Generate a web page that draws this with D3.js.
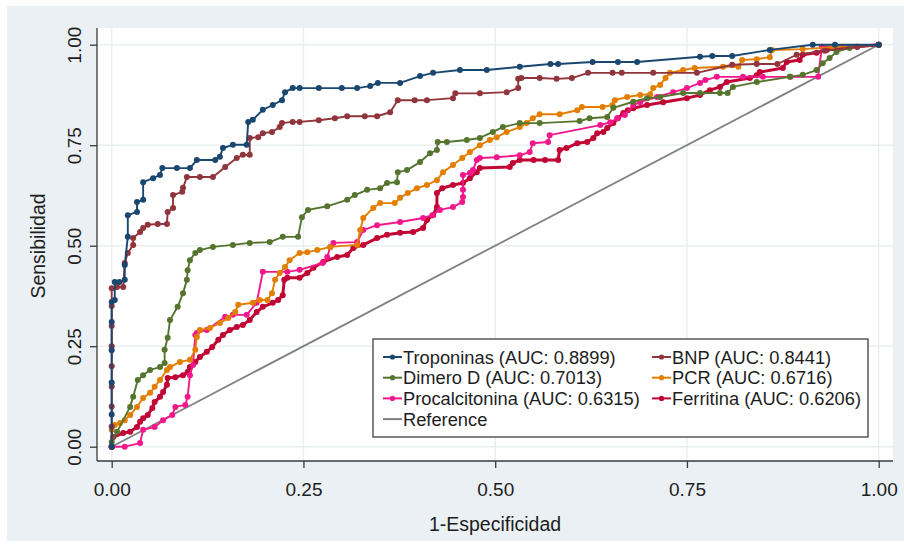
<!DOCTYPE html>
<html>
<head>
<meta charset="utf-8">
<script src="https://cdn.jsdelivr.net/npm/d3@7"></script>
<style>
  body { margin: 0; background: #ffffff; }
  svg { display: block; font-family: "Liberation Sans", Arial, sans-serif; }
  .tick_text { font-size: 19px; fill: #1e1e1e; }
  .title_text { font-size: 19.5px; fill: #1e1e1e; }
  .legend_text { font-size: 18.3px; fill: #1e1e1e; }
</style>
</head>
<body>
<div id="screen"></div>
<script>
// ROC points: [1-especificidad, sensibilidad]
const troponinas = [[0,0],[0,.08],[0,.16],[0,.24],[0,.31],[0,.36],[.004,.365],[.004,.41],[.01,.41],[.017,.415],[.017,.452],
  [.021,.522],[.021,.576],[.033,.584],[.033,.609],[.041,.614],[.041,.658],[.054,.668],[.063,.676],[.066,.693],[.085,.693],
  [.102,.693],[.111,.713],[.135,.713],[.141,.721],[.145,.743],[.158,.751],[.176,.751],[.178,.808],[.184,.813],[.197,.838],
  [.21,.85],[.222,.862],[.226,.882],[.236,.892],[.245,.892],[.27,.892],[.3,.892],[.32,.892],[.337,.897],[.347,.905],[.376,.905],
  [.402,.922],[.419,.93],[.454,.937],[.489,.937],[.532,.945],[.572,.952],[.582,.952],[.627,.957],[.66,.957],[.685,.957],
  [.767,.97],[.783,.972],[.809,.972],[.858,.987],[.914,1],[.943,1],[1,1]];

const bnp = [[0,0],[0,.05],[0,.1],[0,.15],[0,.2],[0,.25],[0,.3],[0,.35],[0,.394],[.007,.397],[.015,.397],[.017,.457],
  [.021,.482],[.028,.502],[.028,.519],[.037,.534],[.041,.544],[.047,.552],[.06,.554],[.072,.554],[.073,.584],[.08,.594],
  [.08,.626],[.092,.634],[.093,.644],[.098,.671],[.115,.671],[.132,.671],[.148,.696],[.163,.718],[.171,.726],[.18,.726],
  [.18,.768],[.191,.77],[.197,.78],[.209,.783],[.219,.795],[.222,.805],[.236,.808],[.245,.808],[.27,.812],[.291,.817],
  [.307,.822],[.33,.822],[.346,.822],[.363,.832],[.373,.862],[.395,.862],[.411,.862],[.445,.867],[.448,.879],[.48,.879],
  [.515,.882],[.53,.892],[.53,.915],[.534,.917],[.558,.917],[.58,.915],[.6,.917],[.621,.93],[.653,.93],[.665,.93],[.706,.93],
  [.763,.93],[.809,.95],[.841,.952],[.868,.952],[.893,.975],[.93,.985],[.972,.995],[1,1]];

const dimeroD = [[0,0],[0,.012],[.007,.037],[.024,.099],[.028,.124],[.034,.166],[.041,.178],[.05,.191],[.063,.198],
  [.069,.208],[.069,.241],[.073,.271],[.076,.315],[.086,.348],[.093,.382],[.098,.415],[.099,.439],[.102,.464],[.109,.482],
  [.115,.489],[.132,.497],[.158,.502],[.18,.507],[.206,.509],[.223,.522],[.243,.522],[.248,.571],[.256,.589],[.281,.598],
  [.307,.614],[.317,.626],[.333,.639],[.35,.643],[.359,.656],[.372,.658],[.373,.683],[.385,.688],[.402,.708],[.415,.73],
  [.424,.738],[.425,.758],[.437,.758],[.463,.763],[.48,.768],[.497,.783],[.51,.795],[.532,.805],[.558,.805],[.61,.81],
  [.623,.817],[.646,.82],[.654,.843],[.68,.858],[.698,.867],[.715,.87],[.745,.88],[.767,.88],[.793,.88],[.803,.88],
  [.81,.895],[.841,.907],[.884,.92],[.901,.925],[.919,.937],[.927,.954],[.936,.967],[.945,.982],[.962,.992],[1,1]];

const pcr = [[0,0],[0,.042],[.004,.054],[.011,.059],[.017,.066],[.024,.079],[.033,.099],[.041,.121],[.05,.134],[.056,.149],
  [.063,.166],[.072,.191],[.076,.198],[.089,.211],[.102,.216],[.109,.241],[.111,.273],[.115,.29],[.128,.295],[.141,.308],
  [.152,.32],[.161,.335],[.165,.353],[.184,.358],[.193,.365],[.203,.365],[.209,.382],[.213,.415],[.219,.432],[.226,.447],
  [.232,.464],[.245,.482],[.255,.484],[.268,.489],[.285,.497],[.32,.502],[.324,.539],[.328,.569],[.341,.594],[.35,.606],
  [.369,.606],[.376,.619],[.386,.631],[.398,.643],[.411,.651],[.424,.663],[.432,.683],[.445,.701],[.457,.718],[.467,.733],
  [.48,.75],[.493,.763],[.502,.77],[.515,.783],[.532,.795],[.541,.805],[.549,.817],[.558,.827],[.584,.827],[.607,.837],
  [.613,.845],[.64,.845],[.653,.85],[.656,.862],[.672,.87],[.689,.875],[.702,.877],[.706,.892],[.715,.9],[.722,.917],
  [.728,.93],[.745,.937],[.76,.942],[.797,.945],[.817,.945],[.822,.962],[.841,.964],[.858,.969],[.861,.987],[.901,.989],
  [.94,.994],[1,1]];

const procalcitonina = [[0,0],[.017,0],[.037,.009],[.041,.042],[.056,.049],[.067,.066],[.079,.079],[.083,.099],[.096,.104],
  [.099,.124],[.102,.178],[.106,.203],[.109,.278],[.111,.283],[.124,.29],[.148,.323],[.158,.328],[.176,.328],[.189,.358],
  [.197,.435],[.229,.435],[.245,.44],[.275,.457],[.281,.472],[.285,.497],[.289,.507],[.32,.509],[.328,.539],[.346,.551],
  [.376,.559],[.406,.569],[.418,.576],[.428,.589],[.445,.596],[.457,.609],[.458,.621],[.458,.639],[.458,.676],[.467,.681],
  [.471,.688],[.476,.713],[.48,.718],[.502,.72],[.532,.725],[.545,.733],[.549,.755],[.569,.758],[.571,.775],[.637,.8],
  [.65,.807],[.659,.817],[.669,.825],[.68,.85],[.689,.857],[.711,.87],[.732,.882],[.75,.892],[.767,.905],[.774,.912],
  [.789,.92],[.823,.92],[.849,.92],[.885,.92],[.921,.92],[.926,.995],[1,1]];

const ferritina = [[0,0],[.002,.024],[.015,.034],[.024,.037],[.033,.049],[.037,.062],[.041,.071],[.047,.079],[.053,.096],
  [.056,.111],[.063,.124],[.067,.136],[.072,.154],[.073,.171],[.083,.173],[.093,.178],[.099,.186],[.102,.198],[.109,.211],
  [.115,.223],[.124,.236],[.131,.248],[.139,.266],[.145,.278],[.154,.29],[.163,.298],[.171,.303],[.18,.315],[.189,.335],
  [.197,.348],[.21,.358],[.217,.365],[.223,.377],[.225,.415],[.229,.42],[.245,.42],[.255,.432],[.263,.445],[.276,.46],
  [.294,.472],[.307,.477],[.315,.494],[.328,.502],[.346,.519],[.359,.527],[.376,.532],[.393,.534],[.406,.544],[.411,.564],
  [.419,.576],[.424,.596],[.424,.631],[.431,.643],[.445,.651],[.458,.656],[.467,.668],[.476,.683],[.48,.693],[.519,.696],
  [.523,.706],[.532,.713],[.55,.713],[.565,.713],[.582,.713],[.584,.738],[.593,.743],[.607,.755],[.62,.758],[.628,.768],
  [.633,.78],[.641,.783],[.646,.793],[.654,.805],[.66,.817],[.667,.83],[.673,.837],[.68,.842],[.698,.85],[.719,.857],
  [.75,.867],[.767,.875],[.78,.887],[.793,.895],[.802,.907],[.832,.917],[.841,.924],[.845,.932],[.875,.942],[.88,.957],
  [.897,.962],[.901,.975],[.919,.98],[.932,.987],[.972,.995],[1,1]];

const seriesNames = ["Troponinas", "BNP", "Dimero D", "PCR", "Procalcitonina", "Ferritina"];
const seriesAUC = ["0.8899", "0.8441", "0.7013", "0.6716", "0.6315", "0.6206"];
const seriesColors = ["#1a476f", "#90353b", "#55752f", "#e37e00", "#f2188c", "#c10534"];
const seriesPoints = [troponinas, bnp, dimeroD, pcr, procalcitonina, ferritina];
const referenceLine = [[0,0],[1,1]];
const ticks = [0, .25, .5, .75, 1];

const width = 904, height = 547;

const svg = d3.select("#screen").append("svg")
  .attr("width", width).attr("height", height)

svg.append("rect")
  .attr("x", 7).attr("y", 6).attr("width", 897).attr("height", 535)
  .attr("fill", "#eaf0f3")

svg.append("rect")
  .attr("x", 97).attr("y", 28).attr("width", 796).attr("height", 433)
  .attr("fill", "#ffffff")

const x = d3.scaleLinear().domain([0, 1]).range([111.7, 878.7]);
const y = d3.scaleLinear().domain([0, 1]).range([446.7, 44.7]);

// grid
svg.append("g").selectAll("line")
  .data(ticks).enter().append("line")
  .attr("x1", 97).attr("x2", 893)
  .attr("y1", d => y(d)).attr("y2", d => y(d))
  .attr("stroke", "#e9eef1").attr("stroke-width", 1.5)
svg.append("g").selectAll("line")
  .data(ticks).enter().append("line")
  .attr("y1", 28).attr("y2", 461)
  .attr("x1", d => x(d)).attr("x2", d => x(d))
  .attr("stroke", "#e9eef1").attr("stroke-width", 1.5)

// axes
const xAxis = svg.append("g")
  .attr("transform", "translate(0,461)")
  .call(d3.axisBottom(x).tickValues(ticks).tickFormat(d3.format(".2f")).tickSize(7).tickSizeOuter(0))
xAxis.select(".domain").attr("d", "M97,0H893")
xAxis.selectAll("line").attr("stroke", "#3a3a3a").attr("stroke-width", 1.3)
xAxis.select(".domain").attr("stroke", "#3a3a3a").attr("stroke-width", 1.3)
xAxis.selectAll("text").attr("class", "tick_text").attr("font-size", null).attr("font-family", null).attr("y", 22).attr("dy", "0.71em")

const yAxis = svg.append("g")
  .attr("transform", "translate(97,0)")
  .call(d3.axisLeft(y).tickValues(ticks).tickFormat(d3.format(".2f")).tickSize(7).tickSizeOuter(0))
yAxis.select(".domain").attr("d", "M0,28V461")
yAxis.selectAll("line").attr("stroke", "#3a3a3a").attr("stroke-width", 1.3)
yAxis.select(".domain").attr("stroke", "#3a3a3a").attr("stroke-width", 1.3)
yAxis.selectAll("text")
  .attr("class", "tick_text").attr("font-size", null).attr("font-family", null)
  .attr("x", null).attr("dy", null)
  .attr("text-anchor", "middle")
  .attr("transform", "translate(-16,0) rotate(-90)")

svg.append("text")
  .text("1-Especificidad")
  .attr("class", "title_text")
  .attr("x", 495).attr("y", 531)
  .attr("text-anchor", "middle")

svg.append("text")
  .text("Sensibilidad")
  .attr("class", "title_text")
  .attr("transform", "translate(45,246) rotate(-90)")
  .attr("text-anchor", "middle")

// reference line
const line = d3.line().x(d => x(d[0])).y(d => y(d[1]));
svg.append("path")
  .datum(referenceLine)
  .attr("d", line)
  .attr("fill", "none")
  .attr("stroke", "#808080")
  .attr("stroke-width", 1.8)

// curves, drawn last series first so Troponinas sits on top
const order = [5, 4, 3, 2, 1, 0];
order.forEach(i => {
  const g = svg.append("g");
  g.append("path")
    .datum(seriesPoints[i])
    .attr("d", line)
    .attr("fill", "none")
    .attr("stroke", seriesColors[i])
    .attr("stroke-width", i == 5 ? 3 : 1.9)
    .attr("stroke-linejoin", "round")
  g.selectAll("circle")
    .data(seriesPoints[i])
    .enter().append("circle")
    .attr("cx", d => x(d[0]))
    .attr("cy", d => y(d[1]))
    .attr("r", 3)
    .attr("fill", seriesColors[i])
});

// legend
const legend = svg.append("g");
legend.append("rect")
  .attr("x", 373).attr("y", 339).attr("width", 495).attr("height", 98)
  .attr("fill", "#ffffff").attr("stroke", "#404040").attr("stroke-width", 1.3)

const legendItems = seriesNames.map((n, i) => ({
  label: n + " (AUC: " + seriesAUC[i] + ")", color: seriesColors[i], dot: true,
  col: i % 2, row: Math.floor(i / 2)
}));
legendItems.push({ label: "Reference", color: "#808080", dot: false, col: 0, row: 3 });

const item = legend.selectAll("g.item")
  .data(legendItems).enter().append("g")
  .attr("class", "item")
  .attr("transform", d => "translate(" + (d.col ? 652 : 383) + "," + (357 + d.row * 20.7) + ")")
item.append("line")
  .attr("x1", 0).attr("x2", 19).attr("y1", 0).attr("y2", 0)
  .attr("stroke", d => d.color).attr("stroke-width", 2)
item.filter(d => d.dot).append("circle")
  .attr("cx", 9.5).attr("cy", 0).attr("r", 2.6)
  .attr("fill", d => d.color)
item.append("text")
  .text(d => d.label)
  .attr("class", "legend_text")
  .attr("x", 20).attr("y", 6.5)
</script>
</body>
</html>
